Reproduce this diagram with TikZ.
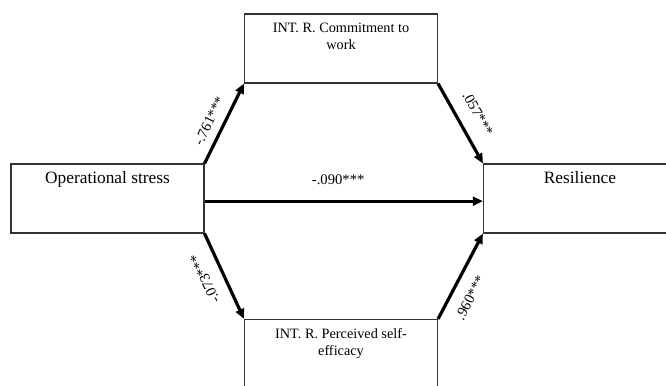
\documentclass[tikz,border=0pt]{standalone}
\usepackage{fontspec}
\setmainfont{Liberation Serif}
\usetikzlibrary{arrows.meta}

\tikzset{
	box/.style={draw=black!80, line width=0.8pt, minimum width=144.75pt, minimum height=51.75pt, inner sep=0pt},
	boxtext/.style={anchor=north, inner sep=0pt, align=center},
	bigtext/.style={boxtext, yshift=-6pt, font=\fontsize{13}{15}\selectfont},
	smalltext/.style={boxtext, yshift=-7pt, font=\fontsize{10.7}{12.8}\selectfont},
	wt/.tip={Triangle[length=7.5pt, width=6.5pt]},
	link/.style={line width=2.4pt},
	weight/.style={inner sep=0pt, font=\fontsize{11}{13}\selectfont}
}

\begin{document}
\begin{tikzpicture}[x=0.75pt, y=-0.75pt]
			% frame
			\clip (0, 0) rectangle (666, 385);
			% boxes
			\node[box] (stress) at (107.5, 198.5) {};
			\node[box] (resil) at (580, 198.5) {};
			\node[box] (commit) at (341, 48.5) {};
			\node[box] (efficacy) at (341, 354) {};
			% texts in the boxes
			\node[bigtext] (stress-t) at (stress.north) {Operational stress};
			\node[bigtext] (resil-t) at (resil.north) {Resilience};
			\node[smalltext] (commit-t) at (commit.north) {INT. R. Commitment to\\work};
			\node[smalltext] (efficacy-t) at (efficacy.north) {INT. R. Perceived self-\\efficacy};
			% paths through commitment
			\draw[link, -wt] (stress.north east) -- node[weight, sloped, above=6pt, pos=.45] {-.761***} (commit.south west);
			\draw[link, -wt] (commit.south east) -- node[weight, sloped, above=10pt] {.057***} (resil.north west);
			% direct path
			\draw[link, -wt] ([yshift=-2pt]stress.east) -- node[weight, above=11pt, pos=.48] {-.090***} ([yshift=-2pt]resil.west);
			% paths through self-efficacy
			\draw[link, wt-] (efficacy.north west) -- node[weight, sloped, allow upside down, above=9pt, pos=.56] {-.073***} (stress.south east);
			\draw[link, -wt] (efficacy.north east) -- node[weight, sloped, below=9pt, pos=.35] {.960***} (resil.south west);
\end{tikzpicture}
\end{document}
